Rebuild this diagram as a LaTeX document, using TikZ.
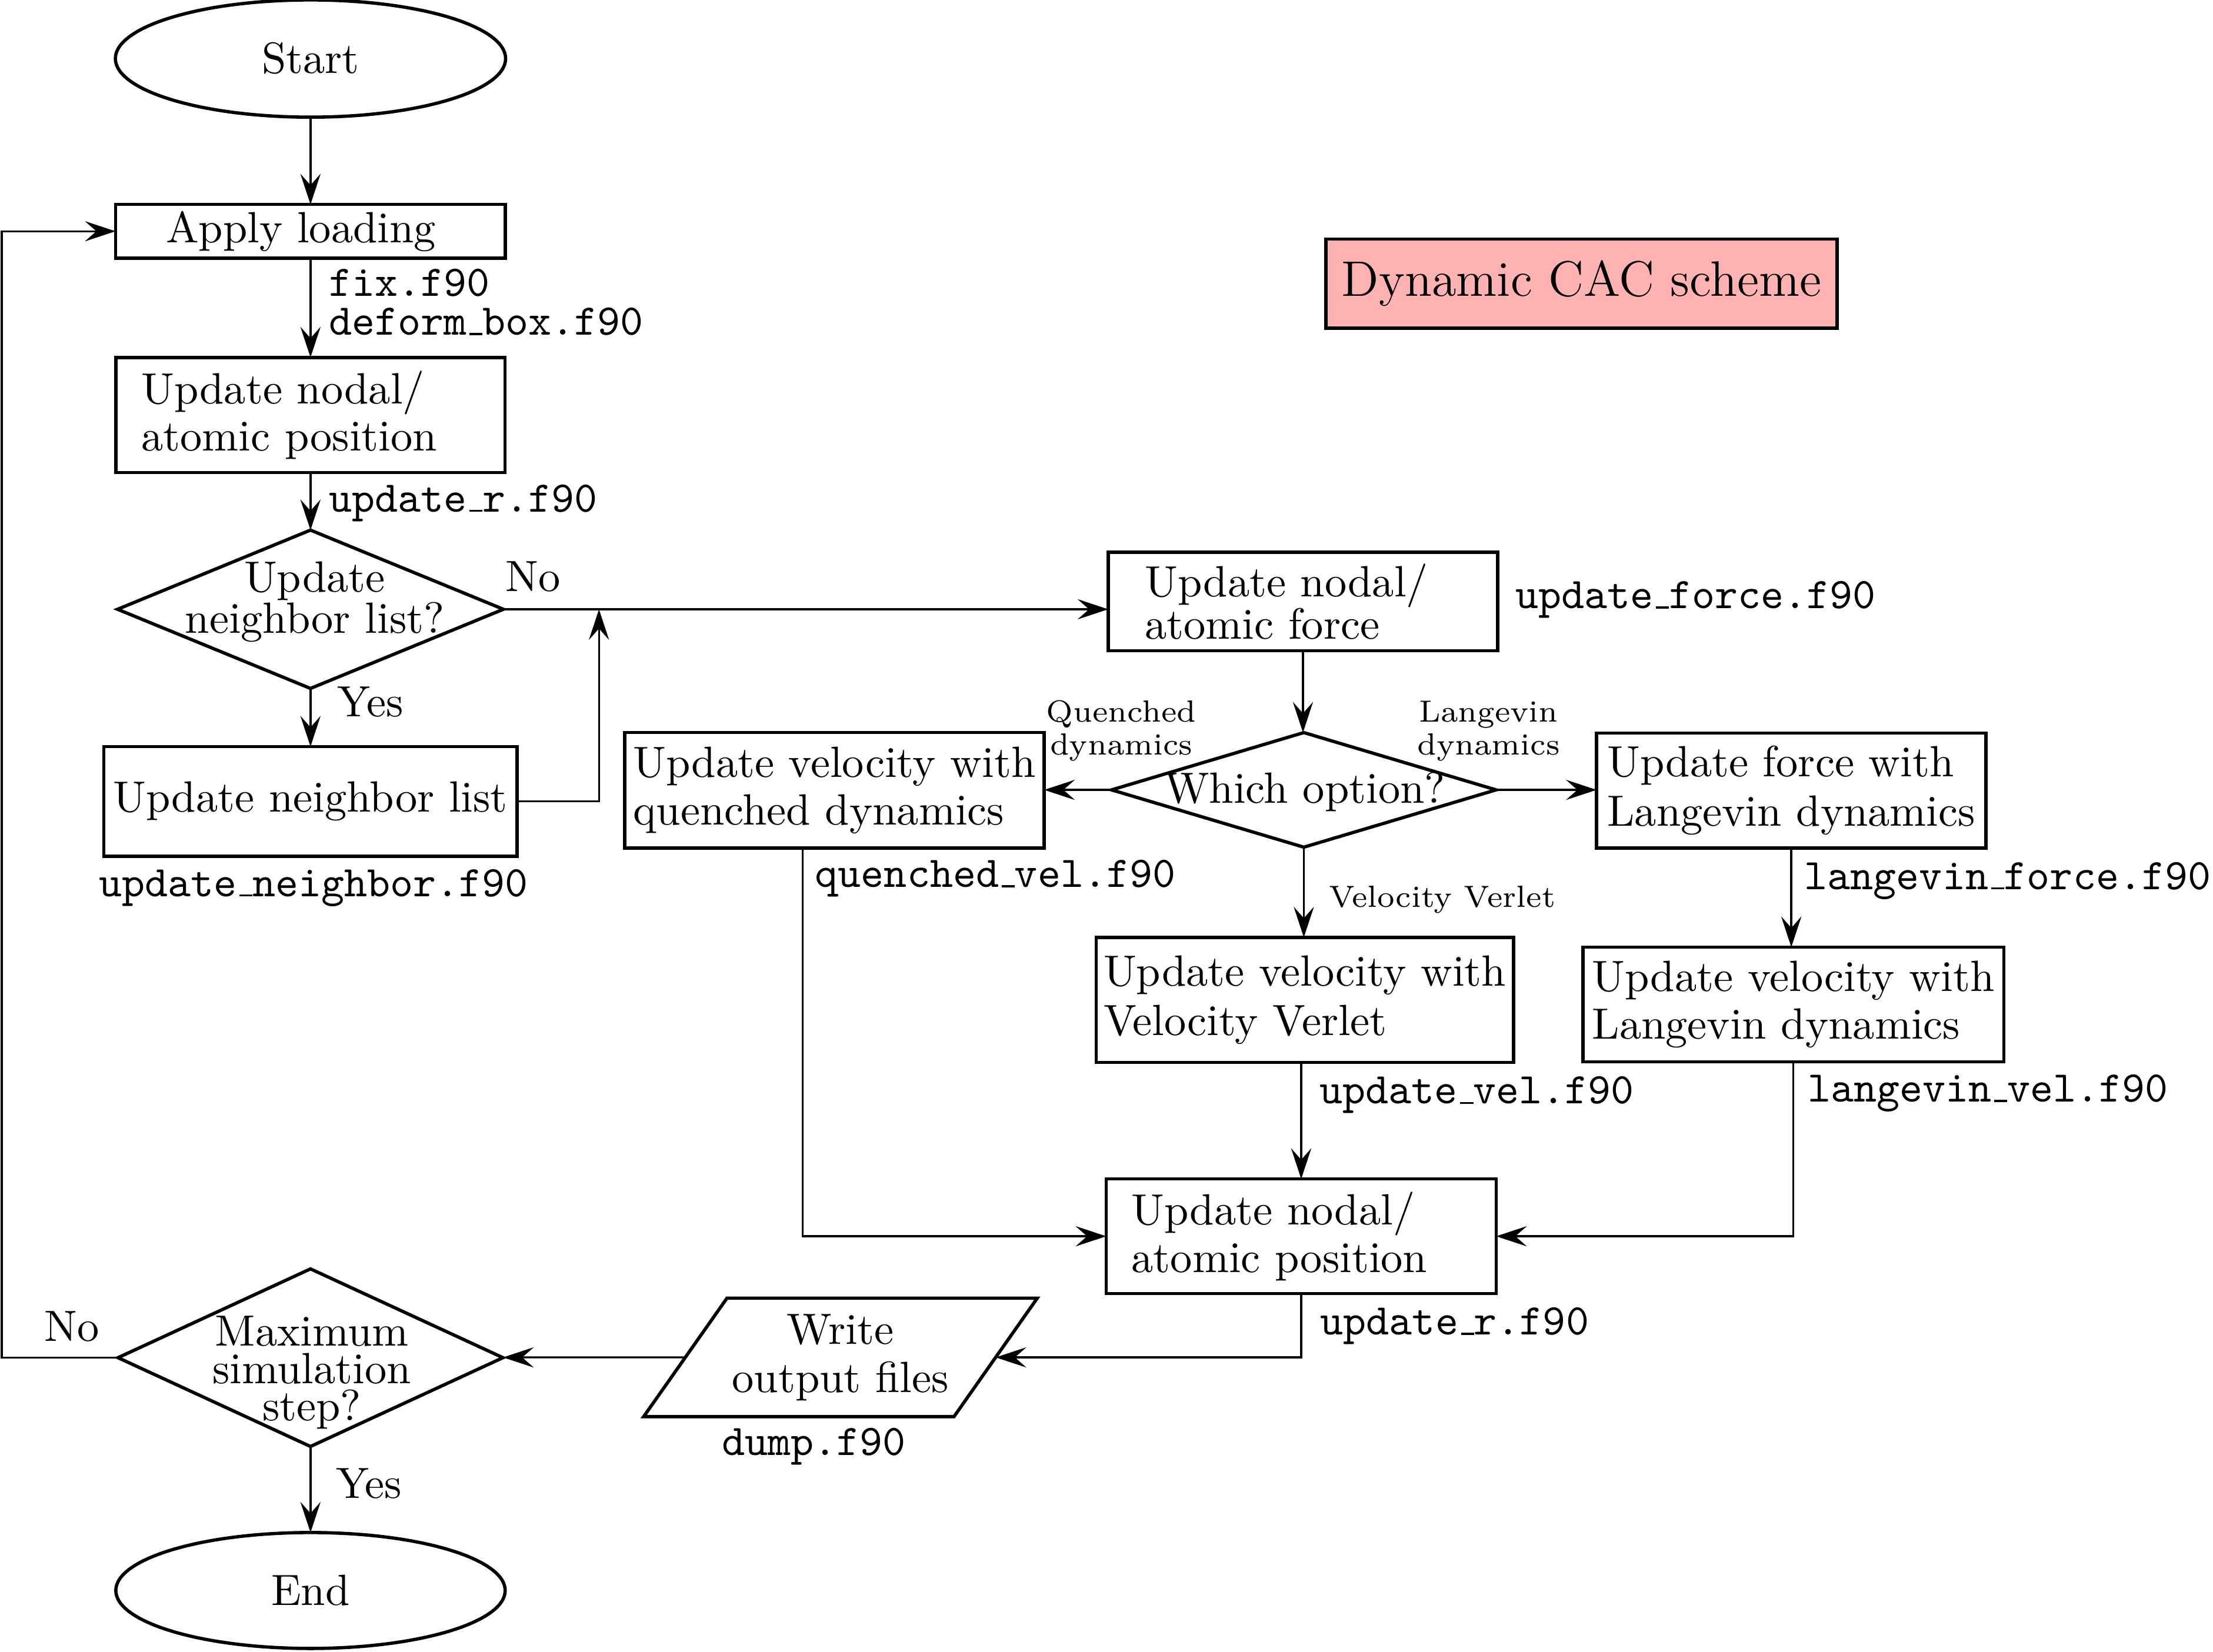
\documentclass[tikz,border=0pt]{standalone}
\usetikzlibrary{shapes.geometric,arrows.meta}
\newcommand{\usc}{\leavevmode\kern.06em\vbox{\hrule width.3em height 0.45pt}}
\tikzset{
  conn/.style={line width=0.45pt},
  arr/.style={conn, -{Stealth[length=7pt,width=4.6pt,inset=2.6pt]}},
  shp/.style={draw, line width=0.75pt, outer sep=0pt},
  pbox/.style={shp, rectangle, align=left, inner ysep=0pt, inner xsep=1pt},
  lbox/.style 2 args={shp, rectangle, align=left, inner ysep=0pt, inner xsep=#1, text width=#2},
  dia/.style={shp, diamond, inner sep=0pt},
  ell/.style={shp, ellipse, inner sep=0pt},
  ls/.style={font=\fontsize{10}{#1}\selectfont},
  fname/.style={inner sep=0pt, anchor=base west, font=\fontsize{10}{12}\ttfamily},
  lab/.style={inner sep=0pt, anchor=base west},
  smalllab/.style={inner sep=0pt, align=center, font=\fontsize{7}{7.5}\selectfont},
  dtxt/.style={inner sep=0pt, align=center},
}
\begin{document}
\begin{tikzpicture}[x=0.3226pt, y=-0.3226pt, font=\fontsize{10}{12}\selectfont]
\useasboundingbox (0,0) rectangle (1568,1170.4);

% main nodes
\node[ell, minimum width=89.2pt, minimum height=26.8pt] (start) at (220,41.5) {Start};
\node[lbox={11.5pt}{66.1pt}, minimum height=12.26pt] (apply) at (220,163.9) {Apply loading};
\node[lbox={5.8pt}{77.3pt}, ls=10.7, minimum height=26.3pt] (unap1) at (220,294.1) {Update nodal/\\atomic position};
\node[dia, minimum width=88.2pt, minimum height=36.2pt] (d1) at (220,431.8) {};
\node[dtxt, ls=9.35] (d1t) at (223,426.6) {Update\\neighbor list?};
\node[pbox, minimum width=94.5pt, minimum height=25.1pt] (unl) at (220,568) {Update neighbor list};
\node[lbox={8.4pt}{72.2pt}, ls=9.65, minimum height=22.5pt] (unaf) at (923.2,426.3) {Update nodal/\\atomic force};
\node[dia, minimum width=87.9pt, minimum height=26.2pt] (d2) at (923.8,559.8) {};
\node[dtxt] (d2t) at (924.5,561.2) {Which option?};
\node[pbox, ls=10.85, minimum width=95.9pt, minimum height=26.4pt] (qd) at (591.2,560.1) {Update velocity with\\quenched dynamics};
\node[pbox, ls=11.3, minimum width=89pt, minimum height=26.3pt] (lf) at (1269.2,560.3) {Update force with\\Langevin dynamics};
\node[pbox, ls=11.3, minimum width=95.4pt, minimum height=28.6pt] (vv) at (924.5,708.7) {Update velocity with\\Velocity Verlet};
\node[pbox, ls=10.85, minimum width=96.2pt, minimum height=26.2pt] (lv) at (1270.65,711.85) {Update velocity with\\Langevin dynamics};
\node[lbox={5.8pt}{77.5pt}, ls=10.85, minimum height=26.2pt] (unap2) at (921.95,876.15) {Update nodal/\\atomic position};
\node[shp, trapezium, trapezium left angle=54.9, trapezium right angle=125.1,
      minimum width=1pt, minimum height=1pt, inner xsep=1.2pt, inner ysep=3.65pt,
      align=center, ls=11] (wo) at (595.5,962) {Write\\output files};
\node[dia, minimum width=88pt, minimum height=40.6pt] (d3) at (220,962.2) {};
\node[dtxt, ls=8.55] (d3t) at (221,972.9) {Maximum\\simulation\\step?};
\node[ell, minimum width=89pt, minimum height=26.5pt] (end) at (220,1127.2) {End};
\node[shp, rectangle, fill=red!30, minimum width=116.8pt, minimum height=20.4pt, inner sep=0pt,
      font=\fontsize{11.4}{13}\selectfont] (dcs) at (1120.6,201) {Dynamic CAC scheme};

% file labels
\node[fname] (l1) at (232.5,210) {fix.f90};
\node[fname] (l2) at (232.5,237.4) {deform\usc box.f90};
\node[fname] (l3) at (232.5,362.8) {update\usc r.f90};
\node[fname] (l4) at (69.5,635.3) {update\usc neighbor.f90};
\node[fname] (l5) at (1073.2,431.3) {update\usc force.f90};
\node[fname] (l6) at (577,628.8) {quenched\usc vel.f90};
\node[fname] (l7) at (1278,630.3) {langevin\usc force.f90};
\node[fname] (l8) at (934.5,782.3) {update\usc vel.f90};
\node[fname] (l9) at (1280.3,780.9) {langevin\usc vel.f90};
\node[fname] (l10) at (935,946) {update\usc r.f90};
\node[fname] (l11) at (511,1031.5) {dump.f90};

% branch labels
\node[lab] (no1) at (357.7,419) {No};
\node[lab] (yes1) at (238.5,507.7) {Yes};
\node[lab] (no2) at (31,950.6) {No};
\node[lab] (yes2) at (237.4,1061.6) {Yes};
\node[smalllab] (qlab) at (794.5,518) {Quenched\\dynamics};
\node[smalllab] (llab) at (1054.7,518) {Langevin\\dynamics};
\node[smalllab, anchor=base west] (vlab) at (941,643) {Velocity Verlet};

% connectors
\coordinate (jn) at (424.4,431.8);
\coordinate (qx) at (568.8,0);
\coordinate (lx) at (1.2,500);
\draw[arr] (start) -- (apply);
\draw[arr] (apply) -- (unap1);
\draw[arr] (unap1) -- (d1);
\draw[arr] (d1) -- (unl);
\draw[arr] (d1.east) -- (d1.east -| unaf.west);
\draw[arr] (unl.east) -| (jn);
\draw[arr] (unaf.south) -- (unaf.south |- d2.north);
\draw[arr] (d2.west) -- (d2.west -| qd.east);
\draw[arr] (d2.east) -- (d2.east -| lf.west);
\draw[arr] (d2.south) -- (d2.south |- vv.north);
\draw[arr] (lf.south) -- (lf.south |- lv.north);
\draw[arr] (unap2.north |- vv.south) -- (unap2.north);
\draw[arr] (qd.south -| qx) |- (unap2.west);
\draw[arr] (lv.south) |- (unap2.east);
\draw[arr] (unap2.south) |- (wo);
\draw[arr] (wo) -- (wo -| d3.east);
\draw[arr] (d3.west) -| (lx) |- (apply.west);
\draw[arr] (d3) -- (end);
\end{tikzpicture}
\end{document}
